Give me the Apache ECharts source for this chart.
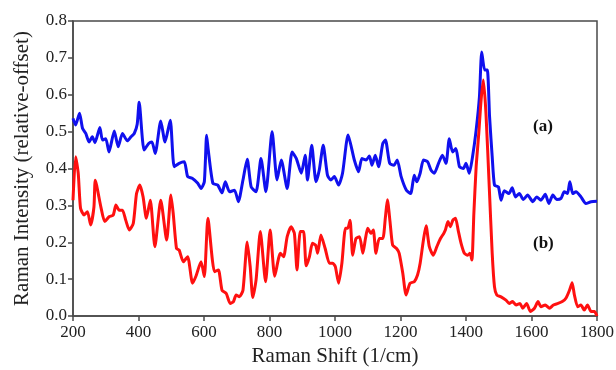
<!DOCTYPE html>
<html>
<head>
<meta charset="utf-8">
<script src="https://cdn.jsdelivr.net/npm/echarts@6/dist/echarts.min.js"></script>
<style>
  html, body { margin: 0; padding: 0; background: #fff; }
  #chart { width: 616px; height: 370px; }
</style>
</head>
<body>
<div id="chart"></div>
<script>
// spectrum (a) - blue
const shiftA = [200, 208, 220, 229, 239, 249, 259, 267, 282, 290, 300, 310, 326, 338, 351, 366, 377, 387, 396, 402, 417, 431, 441, 451, 468, 481, 497, 509, 524, 540, 550, 565, 581, 591, 601, 608, 613, 627, 642, 655, 665, 678, 693, 705, 719, 732, 744, 759, 774, 789, 808, 823, 836, 854, 869, 882, 897, 909, 916, 929, 942, 952, 964, 977, 987, 998, 1011, 1023, 1040, 1059, 1072, 1082, 1095, 1105, 1113, 1123, 1133, 1146, 1154, 1167, 1180, 1190, 1202, 1218, 1231, 1242, 1250, 1260, 1270, 1283, 1293, 1303, 1316, 1328, 1339, 1349, 1359, 1369, 1380, 1392, 1400, 1410, 1420, 1431, 1441, 1448, 1457, 1465, 1472, 1480, 1487, 1499, 1507, 1517, 1531, 1541, 1551, 1563, 1575, 1588, 1604, 1616, 1629, 1642, 1653, 1665, 1677, 1690, 1700, 1710, 1717, 1726, 1736, 1751, 1766, 1782, 1800];
const intensityA = [0.536, 0.518, 0.55, 0.509, 0.495, 0.472, 0.486, 0.47, 0.511, 0.477, 0.481, 0.445, 0.502, 0.459, 0.495, 0.475, 0.486, 0.495, 0.52, 0.58, 0.45, 0.468, 0.472, 0.441, 0.529, 0.472, 0.531, 0.405, 0.414, 0.418, 0.378, 0.373, 0.36, 0.346, 0.364, 0.49, 0.45, 0.36, 0.355, 0.334, 0.364, 0.337, 0.341, 0.31, 0.369, 0.425, 0.35, 0.337, 0.427, 0.337, 0.5, 0.369, 0.423, 0.346, 0.445, 0.427, 0.387, 0.436, 0.369, 0.463, 0.364, 0.396, 0.463, 0.382, 0.369, 0.378, 0.355, 0.387, 0.491, 0.423, 0.391, 0.427, 0.423, 0.434, 0.409, 0.436, 0.405, 0.468, 0.477, 0.414, 0.409, 0.423, 0.378, 0.341, 0.332, 0.382, 0.364, 0.387, 0.423, 0.418, 0.396, 0.387, 0.414, 0.436, 0.414, 0.481, 0.445, 0.454, 0.405, 0.4, 0.414, 0.387, 0.432, 0.504, 0.594, 0.716, 0.667, 0.667, 0.54, 0.432, 0.355, 0.35, 0.314, 0.34, 0.332, 0.348, 0.323, 0.332, 0.316, 0.328, 0.31, 0.323, 0.314, 0.33, 0.305, 0.328, 0.316, 0.319, 0.337, 0.332, 0.364, 0.332, 0.337, 0.323, 0.305, 0.31, 0.311];

// spectrum (b) - red
const shiftB = [200, 208, 216, 223, 234, 244, 254, 264, 268, 285, 297, 310, 323, 331, 341, 351, 361, 372, 384, 394, 404, 414, 424, 436, 450, 468, 486, 499, 506, 516, 524, 537, 550, 565, 575, 591, 601, 612, 632, 644, 655, 668, 680, 690, 698, 708, 719, 732, 741, 749, 759, 772, 788, 802, 816, 833, 843, 854, 866, 876, 884, 894, 904, 912, 922, 931, 941, 947, 957, 970, 983, 993, 1001, 1011, 1021, 1032, 1039, 1046, 1054, 1064, 1075, 1085, 1093, 1100, 1110, 1117, 1125, 1135, 1146, 1154, 1160, 1168, 1176, 1188, 1196, 1207, 1217, 1229, 1242, 1252, 1260, 1270, 1278, 1288, 1300, 1311, 1322, 1332, 1337, 1345, 1352, 1360, 1368, 1376, 1385, 1395, 1405, 1412, 1418, 1424, 1431, 1439, 1446, 1453, 1461, 1471, 1480, 1487, 1494, 1507, 1522, 1532, 1542, 1553, 1565, 1573, 1585, 1597, 1609, 1620, 1629, 1642, 1655, 1667, 1681, 1694, 1705, 1716, 1724, 1731, 1741, 1751, 1761, 1771, 1782, 1792, 1800];
const intensityB = [0.314, 0.432, 0.387, 0.292, 0.274, 0.283, 0.247, 0.296, 0.368, 0.296, 0.256, 0.269, 0.274, 0.301, 0.287, 0.287, 0.26, 0.233, 0.251, 0.332, 0.355, 0.323, 0.265, 0.314, 0.188, 0.314, 0.206, 0.328, 0.278, 0.183, 0.179, 0.147, 0.161, 0.089, 0.107, 0.147, 0.107, 0.265, 0.12, 0.125, 0.07, 0.061, 0.034, 0.039, 0.057, 0.052, 0.07, 0.201, 0.134, 0.05, 0.098, 0.229, 0.093, 0.233, 0.108, 0.17, 0.161, 0.215, 0.242, 0.224, 0.125, 0.229, 0.229, 0.136, 0.161, 0.197, 0.192, 0.17, 0.22, 0.183, 0.143, 0.143, 0.134, 0.089, 0.143, 0.238, 0.238, 0.26, 0.165, 0.21, 0.215, 0.17, 0.21, 0.238, 0.224, 0.233, 0.17, 0.21, 0.21, 0.269, 0.315, 0.256, 0.192, 0.183, 0.17, 0.116, 0.057, 0.089, 0.093, 0.111, 0.143, 0.206, 0.245, 0.188, 0.165, 0.188, 0.21, 0.224, 0.233, 0.256, 0.242, 0.26, 0.265, 0.233, 0.197, 0.17, 0.165, 0.17, 0.152, 0.278, 0.405, 0.495, 0.585, 0.64, 0.549, 0.35, 0.17, 0.079, 0.057, 0.052, 0.043, 0.034, 0.039, 0.03, 0.034, 0.021, 0.034, 0.012, 0.021, 0.039, 0.025, 0.03, 0.021, 0.03, 0.034, 0.039, 0.048, 0.07, 0.09, 0.057, 0.025, 0.03, 0.016, 0.03, 0.012, 0.012, 0.0];

const yTicks = ['0.0', '0.1', '0.2', '0.3', '0.4', '0.5', '0.6', '0.7', '0.8'];

const font = 'Liberation Serif';
const axisColor = '#4a4a4a';

const chart = echarts.init(document.getElementById('chart'));
chart.setOption({
  animation: false,
  grid: {
    left: 73,
    right: 19,
    top: 21,
    bottom: 54,
    outerBoundsMode: 'none',
    containLabel: false,
    show: true,
    borderColor: axisColor,
    borderWidth: 1.5
  },
  xAxis: {
    type: 'value',
    min: 200,
    max: 1800,
    interval: 200,
    name: 'Raman Shift (1/cm)',
    nameLocation: 'middle',
    nameGap: 30,
    nameTextStyle: { fontFamily: font, fontSize: 21, color: '#222' },
    axisLine: { lineStyle: { color: axisColor, width: 1.5 } },
    axisTick: { length: 5, lineStyle: { color: axisColor, width: 1.5 } },
    axisLabel: { fontFamily: font, fontSize: 17, color: '#222', margin: 8, formatter: v => String(v) },
    splitLine: { show: false }
  },
  yAxis: {
    type: 'value',
    min: 0,
    max: 0.8,
    interval: 0.1,
    name: 'Raman Intensity (relative-offset)',
    nameLocation: 'middle',
    nameGap: 40,
    nameTextStyle: { fontFamily: font, fontSize: 21, color: '#222' },
    axisLine: { lineStyle: { color: axisColor, width: 1.5 } },
    axisTick: { length: 5, lineStyle: { color: axisColor, width: 1.5 } },
    axisLabel: {
      fontFamily: font, fontSize: 17, color: '#222', margin: 6,
      formatter: v => yTicks[Math.round(v * 10)]
    },
    splitLine: { show: false }
  },
  series: [
    {
      name: '(a)',
      type: 'line',
      data: shiftA.map((x, i) => [x, intensityA[i]]),
      showSymbol: false,
      smooth: 0.2,
      lineStyle: { color: '#1010ee', width: 3 },
      z: 2
    },
    {
      name: '(b)',
      type: 'line',
      data: shiftB.map((x, i) => [x, intensityB[i]]),
      showSymbol: false,
      smooth: 0.2,
      lineStyle: { color: '#ff1010', width: 3 },
      z: 3
    }
  ],
  graphic: [
    { type: 'text', left: 533, top: 118, style: { text: '(a)', font: 'bold 17px "Liberation Serif"', fill: '#111' } },
    { type: 'text', left: 533, top: 235, style: { text: '(b)', font: 'bold 17px "Liberation Serif"', fill: '#111' } }
  ]
});
</script>
</body>
</html>
